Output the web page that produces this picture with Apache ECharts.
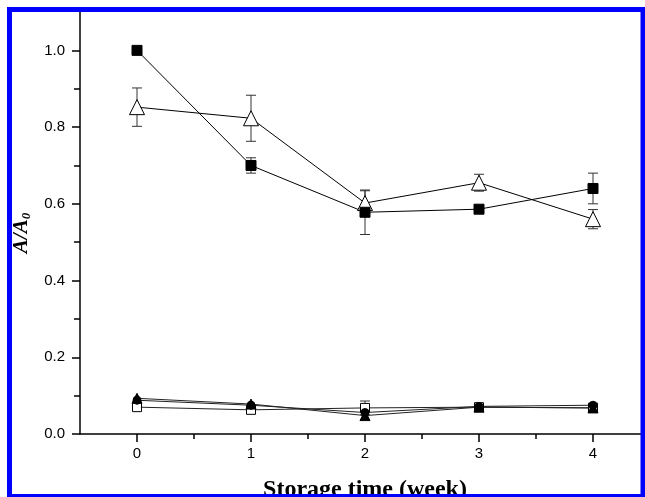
<!DOCTYPE html>
<html>
<head>
    <meta charset="utf-8">
    <title>A/A0 vs storage time</title>
    <script src="https://cdn.jsdelivr.net/npm/echarts@6/dist/echarts.min.js"></script>
    <style>
        body { margin: 0; background: #fff; }
    </style>
</head>
<body>
    <div id="main" style="width: 645px; height: 497px;"></div>

    <script>
        var myChart = echarts.init(document.getElementById('main'));

        // storage time (week)
        var weeks = [0, 1, 2, 3, 4];
        var xTickValues = [0, 1, 2, 3, 4];
        var xMinorValues = [0.5, 1.5, 2.5, 3.5];
        var yTickValues = [0, 0.2, 0.4, 0.6, 0.8, 1.0];
        var yMinorValues = [0.1, 0.3, 0.5, 0.7, 0.9];

        // filled squares
        var squareVals = [1.0, 0.70, 0.578, 0.586, 0.64];
        var squareErr = [0, 0.02, 0.058, 0, 0.04];
        // open triangles
        var triVals = [0.852, 0.823, 0.602, 0.655, 0.56];
        var triErr = [0.05, 0.06, 0.032, 0.022, 0.025];
        // bottom group
        var lowTriVals = [0.093, 0.078, 0.048, 0.07, 0.068];
        var lowCircleVals = [0.088, 0.075, 0.056, 0.072, 0.075];
        var lowSquareVals = [0.07, 0.063, 0.068, 0.07, 0.068];
        var lowSquareErr = [0.005, 0.005, 0.018, 0.005, 0.012];

        function pairs(vals) {
            return weeks.map(function (w, i) { return [w, vals[i]]; });
        }
        function errData(vals, errs) {
            return weeks.map(function (w, i) { return [w, vals[i], errs[i]]; });
        }

        // 误差棒
        function renderErr(params, api) {
            var x = api.value(0), y = api.value(1), e = api.value(2);
            if (!e) return null;
            var hi = api.coord([x, y + e]);
            var lo = api.coord([x, y - e]);
            var hw = 5;
            var st = { stroke: '#333', lineWidth: 1 };
            return {
                type: 'group',
                children: [
                    { type: 'line', shape: { x1: hi[0], y1: hi[1], x2: lo[0], y2: lo[1] }, style: st },
                    { type: 'line', shape: { x1: hi[0] - hw, y1: hi[1], x2: hi[0] + hw, y2: hi[1] }, style: st },
                    { type: 'line', shape: { x1: lo[0] - hw, y1: lo[1], x2: lo[0] + hw, y2: lo[1] }, style: st }
                ]
            };
        }

        function lineSeries(name, vals, symbol, size, filled, color) {
            return {
                name: name,
                type: 'line',
                data: pairs(vals),
                symbol: symbol,
                symbolSize: size,
                showAllSymbol: true,
                z: 3,
                lineStyle: { color: color, width: 1 },
                itemStyle: {
                    color: filled ? '#000' : '#fff',
                    borderColor: '#000',
                    borderWidth: 1
                },
                emphasis: { disabled: true }
            };
        }

        var labelFont = { fontFamily: 'Liberation Sans', fontSize: 15, color: '#000' };

        var option = {
            animation: false,
            backgroundColor: '#fff',
            grid: { left: 80, top: 12, width: 570, height: 422, outerBoundsMode: 'none', containLabel: false },
            xAxis: [{
                type: 'value',
                min: -0.5,
                max: 4.5,
                name: 'Storage time (week)',
                nameLocation: 'middle',
                nameGap: 44,
                nameTextStyle: { fontFamily: 'Liberation Serif', fontWeight: 'bold', fontSize: 24, color: '#000', verticalAlign: 'top' },
                axisLine: { onZero: false, lineStyle: { color: '#000', width: 1.5 } },
                axisTick: { customValues: xTickValues, length: 8, lineStyle: { color: '#000', width: 1.5 } },
                axisLabel: Object.assign({ customValues: xTickValues, margin: 12 }, labelFont),
                splitLine: { show: false }
            }, {
                type: 'value',
                min: -0.5,
                max: 4.5,
                position: 'bottom',
                axisLine: { show: false, onZero: false },
                axisTick: { customValues: xMinorValues, length: 5, lineStyle: { color: '#000', width: 1.5 } },
                axisLabel: { show: false },
                splitLine: { show: false }
            }],
            yAxis: [{
                type: 'value',
                min: 0,
                max: 1.1,
                name: '{a|A/A}{s|0}',
                nameLocation: 'middle',
                nameGap: 46,
                nameTextStyle: {
                    padding: [0, 20, 0, 0],
                    rich: {
                        a: { fontFamily: 'Liberation Serif', fontWeight: 'bold', fontStyle: 'italic', fontSize: 21, color: '#000' },
                        s: { fontFamily: 'Liberation Serif', fontWeight: 'bold', fontStyle: 'italic', fontSize: 13, color: '#000', padding: [10, 0, 0, 0] }
                    }
                },
                axisLine: { onZero: false, lineStyle: { color: '#000', width: 1.5 } },
                axisTick: { customValues: yTickValues, length: 8, lineStyle: { color: '#000', width: 1.5 } },
                axisLabel: Object.assign({
                    customValues: yTickValues,
                    margin: 15,
                    formatter: function (v) { return v.toFixed(1); }
                }, labelFont),
                splitLine: { show: false }
            }, {
                type: 'value',
                min: 0,
                max: 1.1,
                position: 'left',
                axisLine: { show: false, onZero: false },
                axisTick: { customValues: yMinorValues, length: 6, lineStyle: { color: '#000', width: 1.5 } },
                axisLabel: { show: false },
                splitLine: { show: false }
            }],
            series: [
                { type: 'custom', renderItem: renderErr, data: errData(squareVals, squareErr), z: 1, silent: true },
                { type: 'custom', renderItem: renderErr, data: errData(triVals, triErr), z: 1, silent: true },
                { type: 'custom', renderItem: renderErr, data: errData(lowSquareVals, lowSquareErr), z: 1, silent: true },
                lineSeries('lowSquare', lowSquareVals, 'rect', 9, false, '#222'),
                lineSeries('lowCircle', lowCircleVals, 'circle', 8, true, '#222'),
                lineSeries('lowTri', lowTriVals, 'triangle', 10, true, '#222'),
                lineSeries('triangle', triVals, 'triangle', 15, false, '#000'),
                lineSeries('square', squareVals, 'rect', 10, true, '#000')
            ],
            graphic: [{
                type: 'rect',
                z: 100,
                silent: true,
                shape: { x: 9.5, y: 9.5, width: 633.5, height: 487 },
                style: { fill: null, stroke: '#0000ff', lineWidth: 5 }
            }]
        };

        myChart.setOption(option);
    </script>
</body>
</html>
